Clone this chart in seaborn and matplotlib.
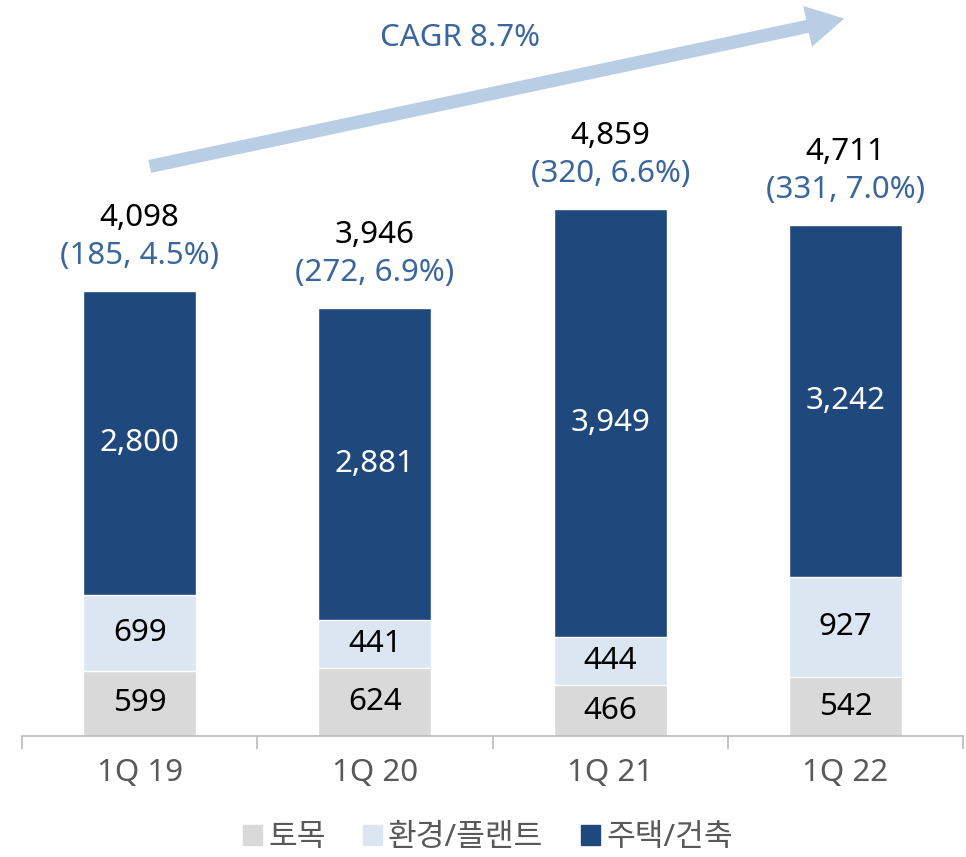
import pandas as pd
import matplotlib.pyplot as plt
import seaborn as sns
from matplotlib.patches import FancyArrowPatch, Patch

# Quarterly order backlog by segment
quarters = ['1Q 19', '1Q 20', '1Q 21', '1Q 22']
civil = [599, 624, 466, 542]          # 토목
plant = [699, 441, 444, 927]          # 환경/플랜트
housing = [2800, 2881, 3949, 3242]    # 주택/건축
totals = [4098, 3946, 4859, 4711]
sub_labels = ['(185, 4.5%)', '(272, 6.9%)', '(320, 6.6%)', '(331, 7.0%)']
series_names = ['토목', '환경/플랜트', '주택/건축']
cagr_text = 'CAGR 8.7%'

c_civil = '#D9D9D9'
c_plant = '#DCE6F2'
c_housing = '#1F487C'
c_blue_txt = '#3A669E'
fs = 22.5

sns.set_theme(style='white')
plt.rcParams['font.family'] = ['Noto Sans', 'Noto Sans CJK KR', 'DejaVu Sans']

df = pd.DataFrame({'quarter': quarters, 'civil': civil, 'plant': plant,
                   'housing': housing})
df['lvl2'] = df['civil'] + df['plant']
df['lvl3'] = df['lvl2'] + df['housing']

fig = plt.figure(figsize=(9.66, 8.57), dpi=100)
ax = fig.add_axes([0.0228, 0.1412, 0.9742, 0.8588])

# stacked bars by overlaying cumulative heights
bw = 0.48
sns.barplot(data=df, x='quarter', y='lvl3', order=quarters, color=c_housing,
            width=bw, saturation=1, ax=ax)
sns.barplot(data=df, x='quarter', y='lvl2', order=quarters, color=c_plant,
            width=bw, saturation=1, ax=ax)
sns.barplot(data=df, x='quarter', y='civil', order=quarters, color=c_civil,
            width=bw, saturation=1, ax=ax)

ax.set_ylim(0, 6780)
ax.set_xlim(-0.5, 3.5)
ax.set_xlabel('')
ax.set_ylabel('')
ax.set_yticks([])
for s in ['top', 'right', 'left']:
    ax.spines[s].set_visible(False)
ax.spines['bottom'].set_color('#BFBFBF')
ax.spines['bottom'].set_linewidth(1.3)
ax.set_xticks([-0.5, 0.5, 1.5, 2.5, 3.5], minor=True)
ax.tick_params(axis='x', which='minor', length=9, width=1.3, color='#BFBFBF',
               direction='out', bottom=True)
ax.tick_params(axis='x', which='major', length=0, pad=16, labelsize=fs,
               labelcolor='#595959')

# segment labels
for i in range(len(quarters)):
    ax.text(i, civil[i] / 2, f'{civil[i]:,}', ha='center', va='center',
            fontsize=fs, color='black')
    ax.text(i, civil[i] + plant[i] / 2, f'{plant[i]:,}', ha='center',
            va='center', fontsize=fs, color='black')
    ax.text(i, civil[i] + plant[i] + housing[i] / 2, f'{housing[i]:,}',
            ha='center', va='center', fontsize=fs, color='white')
    top = civil[i] + plant[i] + housing[i]
    ax.annotate(sub_labels[i], (i, top), xytext=(0, 25),
                textcoords='offset points', ha='center', va='center',
                fontsize=fs, color=c_blue_txt)
    ax.annotate(f'{totals[i]:,}', (i, top), xytext=(0, 52.5),
                textcoords='offset points', ha='center', va='center',
                fontsize=fs, color='black')

# CAGR arrow
arrow = FancyArrowPatch((147 / 966, 1 - 167 / 857), (847 / 966, 1 - 18 / 857),
                        transform=fig.transFigure,
                        arrowstyle='simple,head_length=27,head_width=30,tail_width=9.5',
                        mutation_scale=1, color='#B9CDE5', lw=0)
fig.patches.append(arrow)
fig.text(460 / 966, 1 - 38 / 857, cagr_text, ha='center', va='center',
         fontsize=fs, color=c_blue_txt)

handles = [Patch(color=c) for c in [c_civil, c_plant, c_housing]]
fig.legend(handles, series_names, loc='center', bbox_to_anchor=(0.505, 1 - 838 / 857),
           ncol=3, frameon=False, fontsize=fs, handlelength=0.6,
           handleheight=0.6, handletextpad=0.2, columnspacing=1.2,
           labelcolor='#595959')

fig.savefig('out.png', dpi=100)
